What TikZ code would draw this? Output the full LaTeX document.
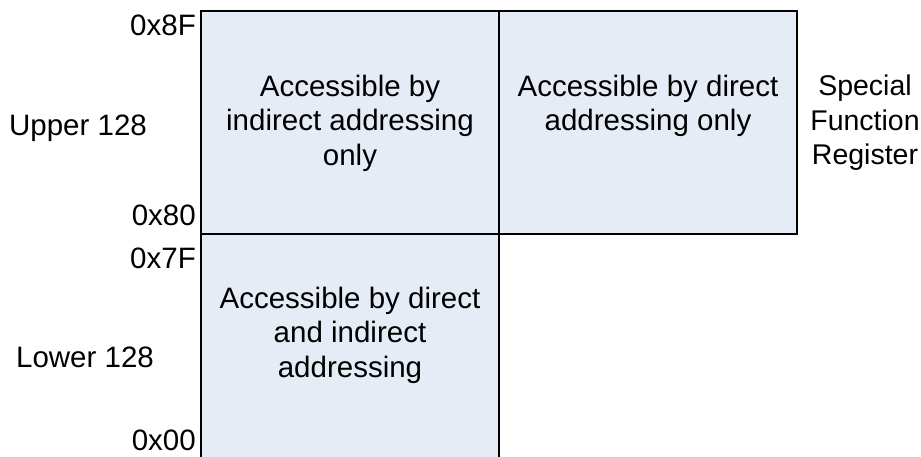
\documentclass[tikz,border=0pt]{standalone}
\usepackage{fontspec}
\setmainfont{Liberation Sans}
\definecolor{boxfill}{HTML}{E6ECF6}
\tikzset{
    membox/.style={draw=black, line width=1.2pt, fill=boxfill, minimum width=298pt, inner sep=0pt},
    addr/.style={anchor=east, inner sep=0pt},
    side/.style={align=center, inner sep=0pt}
}
\begin{document}
\begin{tikzpicture}[x=1pt, y=-1pt, font=\fontsize{29.5}{34.5}\selectfont]
    % Frame
    \useasboundingbox (0,0) rectangle (921,457);
    \clip (0,0) rectangle (921,457);

    % Memory blocks
    \node[membox, minimum height=223pt] (upind) at (350,122.5) {};
    \node[membox, minimum height=223pt] (sfr) at (648,122.5) {};
    \node[membox, minimum height=240pt] (low) at (350,354) {};

    % Block texts
    \node[side] (upindtxt) at (350,123) {Accessible by\\indirect addressing\\only};
    \node[side] (sfrtxt) at (648,106) {Accessible by direct\\addressing only};
    \node[side] (lowtxt) at (350,335) {Accessible by direct\\and indirect\\addressing};

    % Addresses
    \node[addr] (a8f) at (196,25) {0x8F};
    \node[addr] (a80) at (196,215) {0x80};
    \node[addr] (a7f) at (196,258) {0x7F};
    \node[addr] (a00) at (196,440) {0x00};

    % Side labels
    \node[side] (upper) at (78,128) {Upper 128};
    \node[side] (lower) at (85,357) {Lower 128};
    \node[side, font=\fontsize{28.5}{34.5}\selectfont] (sfrlbl) at (865,123) {Special\\Function\\Register};
\end{tikzpicture}
\end{document}
